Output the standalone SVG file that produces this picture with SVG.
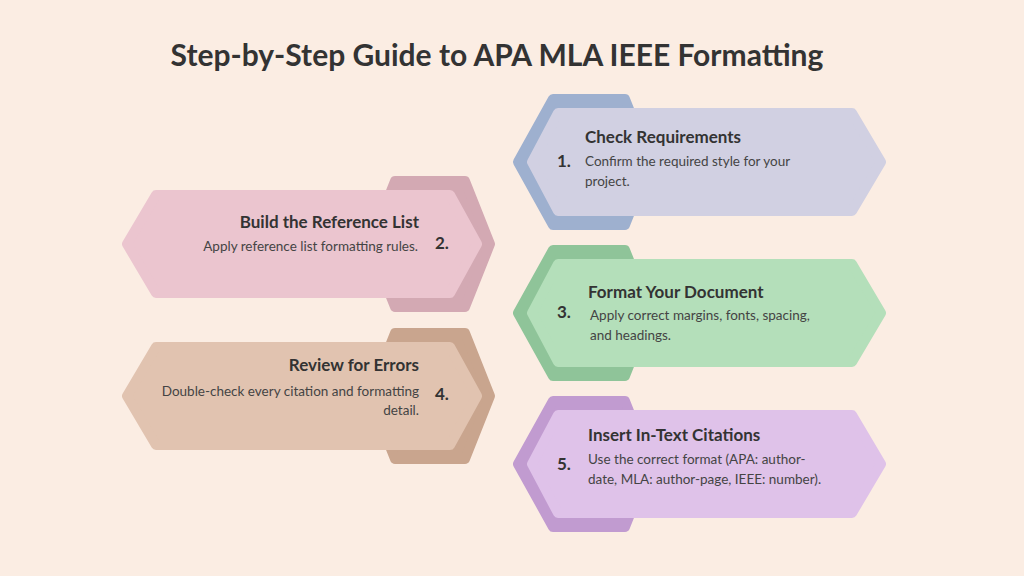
<svg xmlns="http://www.w3.org/2000/svg" width="1024" height="576" viewBox="0 0 1024 576">
<style>
.t{font-family:Lato,"Open Sans",sans-serif;fill:#333;}
.h{font-size:17px;font-weight:bold;}
.d{font-size:13.5px;fill:#444;}
.n{font-size:17px;font-weight:bold;}
path{stroke-linejoin:round;stroke-width:10;}
</style>
<rect width="1024" height="576" fill="#fbede3"/>
<text class="t" x="497" y="66" text-anchor="middle" font-size="30" font-weight="bold">Step-by-Step Guide to APA MLA IEEE Formatting</text>
<g id="node1">
<path d="M553 99 H625 L650 162 L625 225 H553 L518 162 Z" fill="#9eb0cf" stroke="#9eb0cf"/>
<path d="M558 113 H852 L881 162 L852 211 H558 L532 162 Z" fill="#d1d0e2" stroke="#d1d0e2"/>
<text class="t n" x="557" y="167">1.</text>
<text class="t h" x="585" y="143">Check Requirements</text>
<text class="t d" x="585" y="166">Confirm the required style for your</text>
<text class="t d" x="585" y="186">project.</text>
</g>
<g id="node2">
<path d="M395 181 H465 L490 244 L465 307 H395 L370 244 Z" fill="#d3a9b3" stroke="#d3a9b3"/>
<path d="M156 195 H450 L477 244 L450 293 H156 L127 244 Z" fill="#ebc5cf" stroke="#ebc5cf"/>
<text class="t h" x="419" y="228" text-anchor="end">Build the Reference List</text>
<text class="t d" x="418" y="251" text-anchor="end">Apply reference list formatting rules.</text>
<text class="t n" x="435" y="249">2.</text>
</g>
<g id="node3">
<path d="M553 250 H625 L650 313 L625 376 H553 L518 313 Z" fill="#8fc499" stroke="#8fc499"/>
<path d="M558 264 H852 L881 313 L852 362 H558 L532 313 Z" fill="#b4dfba" stroke="#b4dfba"/>
<text class="t n" x="557" y="318">3.</text>
<text class="t h" x="588" y="298">Format Your Document</text>
<text class="t d" x="590" y="320">Apply correct margins, fonts, spacing,</text>
<text class="t d" x="590" y="340">and headings.</text>
</g>
<g id="node4">
<path d="M395 333 H465 L490 396 L465 459 H395 L370 396 Z" fill="#c9a58e" stroke="#c9a58e"/>
<path d="M156 347 H450 L477 396 L450 445 H156 L127 396 Z" fill="#e1c3b0" stroke="#e1c3b0"/>
<text class="t h" x="419" y="371" text-anchor="end">Review for Errors</text>
<text class="t d" x="419" y="396" text-anchor="end">Double-check every citation and formatting</text>
<text class="t d" x="419" y="415" text-anchor="end">detail.</text>
<text class="t n" x="435" y="400">4.</text>
</g>
<g id="node5">
<path d="M553 401 H625 L650 464 L625 527 H553 L518 464 Z" fill="#c19bd0" stroke="#c19bd0"/>
<path d="M558 415 H852 L881 464 L852 513 H558 L532 464 Z" fill="#dfc2e9" stroke="#dfc2e9"/>
<text class="t n" x="557" y="470">5.</text>
<text class="t h" x="588" y="441">Insert In-Text Citations</text>
<text class="t d" x="588" y="464">Use the correct format (APA: author-</text>
<text class="t d" x="588" y="484">date, MLA: author-page, IEEE: number).</text>
</g>
<g id="connectors"/>
</svg>
